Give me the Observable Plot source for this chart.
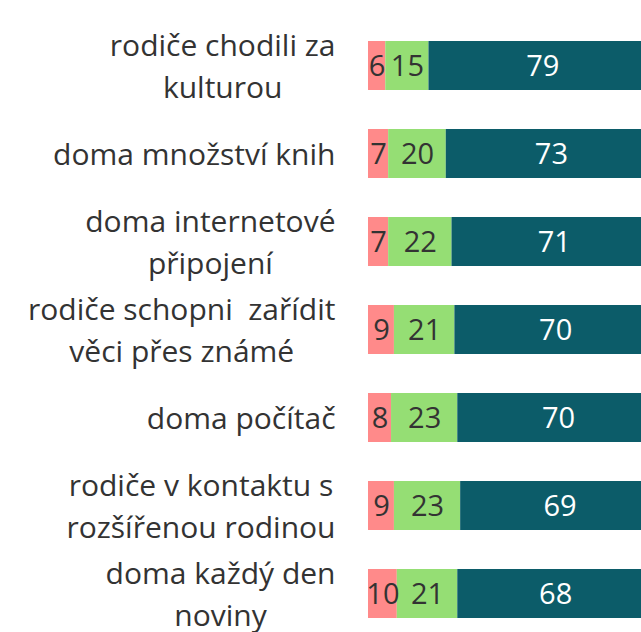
<!DOCTYPE html>
<html><head><meta charset="utf-8">
<script src="https://cdn.jsdelivr.net/npm/d3@7"></script>
<script src="https://cdn.jsdelivr.net/npm/@observablehq/plot@0.6"></script>
<style>
body{margin:0;background:#fff;overflow:hidden}
#chart svg{overflow:hidden;display:block}
</style>
</head><body><div id="chart"></div>
<script>
const categories = [
  "rodiče chodili za kulturou",
  "doma množství knih",
  "doma internetové připojení",
  "rodiče schopni  zařídit věci přes známé",
  "doma počítač",
  "rodiče v kontaktu s rozšířenou rodinou",
  "doma každý den noviny"
];
const labelLines = [
  "rodiče chodili za\nkulturou",
  "doma množství knih",
  "doma internetové\npřipojení",
  "rodiče schopni  zařídit\nvěci přes známé",
  "doma počítač",
  "rodiče v kontaktu s\nrozšířenou rodinou",
  "doma každý den\nnoviny"
];
const series = ["s1", "s2", "s3"];
const valuesS1 = [6, 7, 7, 9, 8, 9, 10];
const valuesS2 = [15, 20, 22, 21, 23, 23, 21];
const valuesS3 = [79, 73, 71, 70, 70, 69, 68];
const seriesValues = [valuesS1, valuesS2, valuesS3];
const colors = ["#FF8A8A", "#95DE74", "#0C5C69"];

const data = categories.flatMap((c, i) =>
  series.map((s, j) => ({cat: c, series: s, value: seriesValues[j][i]})));

const plot = Plot.plot({
  width: 641, height: 632,
  marginLeft: 368, marginRight: 0, marginTop: 0, marginBottom: 0,
  style: {fontFamily: "'Open Sans', sans-serif", background: "#fff", color: "#333"},
  x: {domain: [0, 100], range: [368, 656], axis: null},
  y: {domain: categories, range: [0.7, 658.3], padding: 0.445, axis: null, label: null},
  color: {domain: series, range: colors},
  marks: [
    Plot.barX(data, {x: "value", y: "cat", fill: "series", order: series}),
    Plot.text(data, Plot.stackX({
      x: "value", y: "cat", z: "series", order: series,
      text: d => String(d.value),
      fill: d => d.series === "s3" ? "#ffffff" : "#333333",
      fontSize: 29, dy: 1
    })),
    Plot.axisY(categories, {
      anchor: "left", tickSize: 0, tickPadding: 33, fontSize: 30, lineHeight: 1.4,
      fill: "#333", label: null, dy: -2.5,
      tickFormat: c => labelLines[categories.indexOf(c)]
    })
  ]
});
document.getElementById("chart").appendChild(plot);

// center-align the lines of wrapped labels (right edge of block stays put)
plot.querySelectorAll("text").forEach(t => {
  const spans = t.querySelectorAll("tspan");
  if (spans.length < 2) return;
  const anchor = getComputedStyle(t).textAnchor;
  if (anchor !== "end") return;
  let maxW = 0;
  spans.forEach(s => { maxW = Math.max(maxW, s.getComputedTextLength()); });
  t.setAttribute("text-anchor", "middle");
  spans.forEach(s => {
    const x0 = parseFloat(s.getAttribute("x") || "0");
    s.setAttribute("x", x0 - maxW / 2);
  });
});
</script>
</body></html>
